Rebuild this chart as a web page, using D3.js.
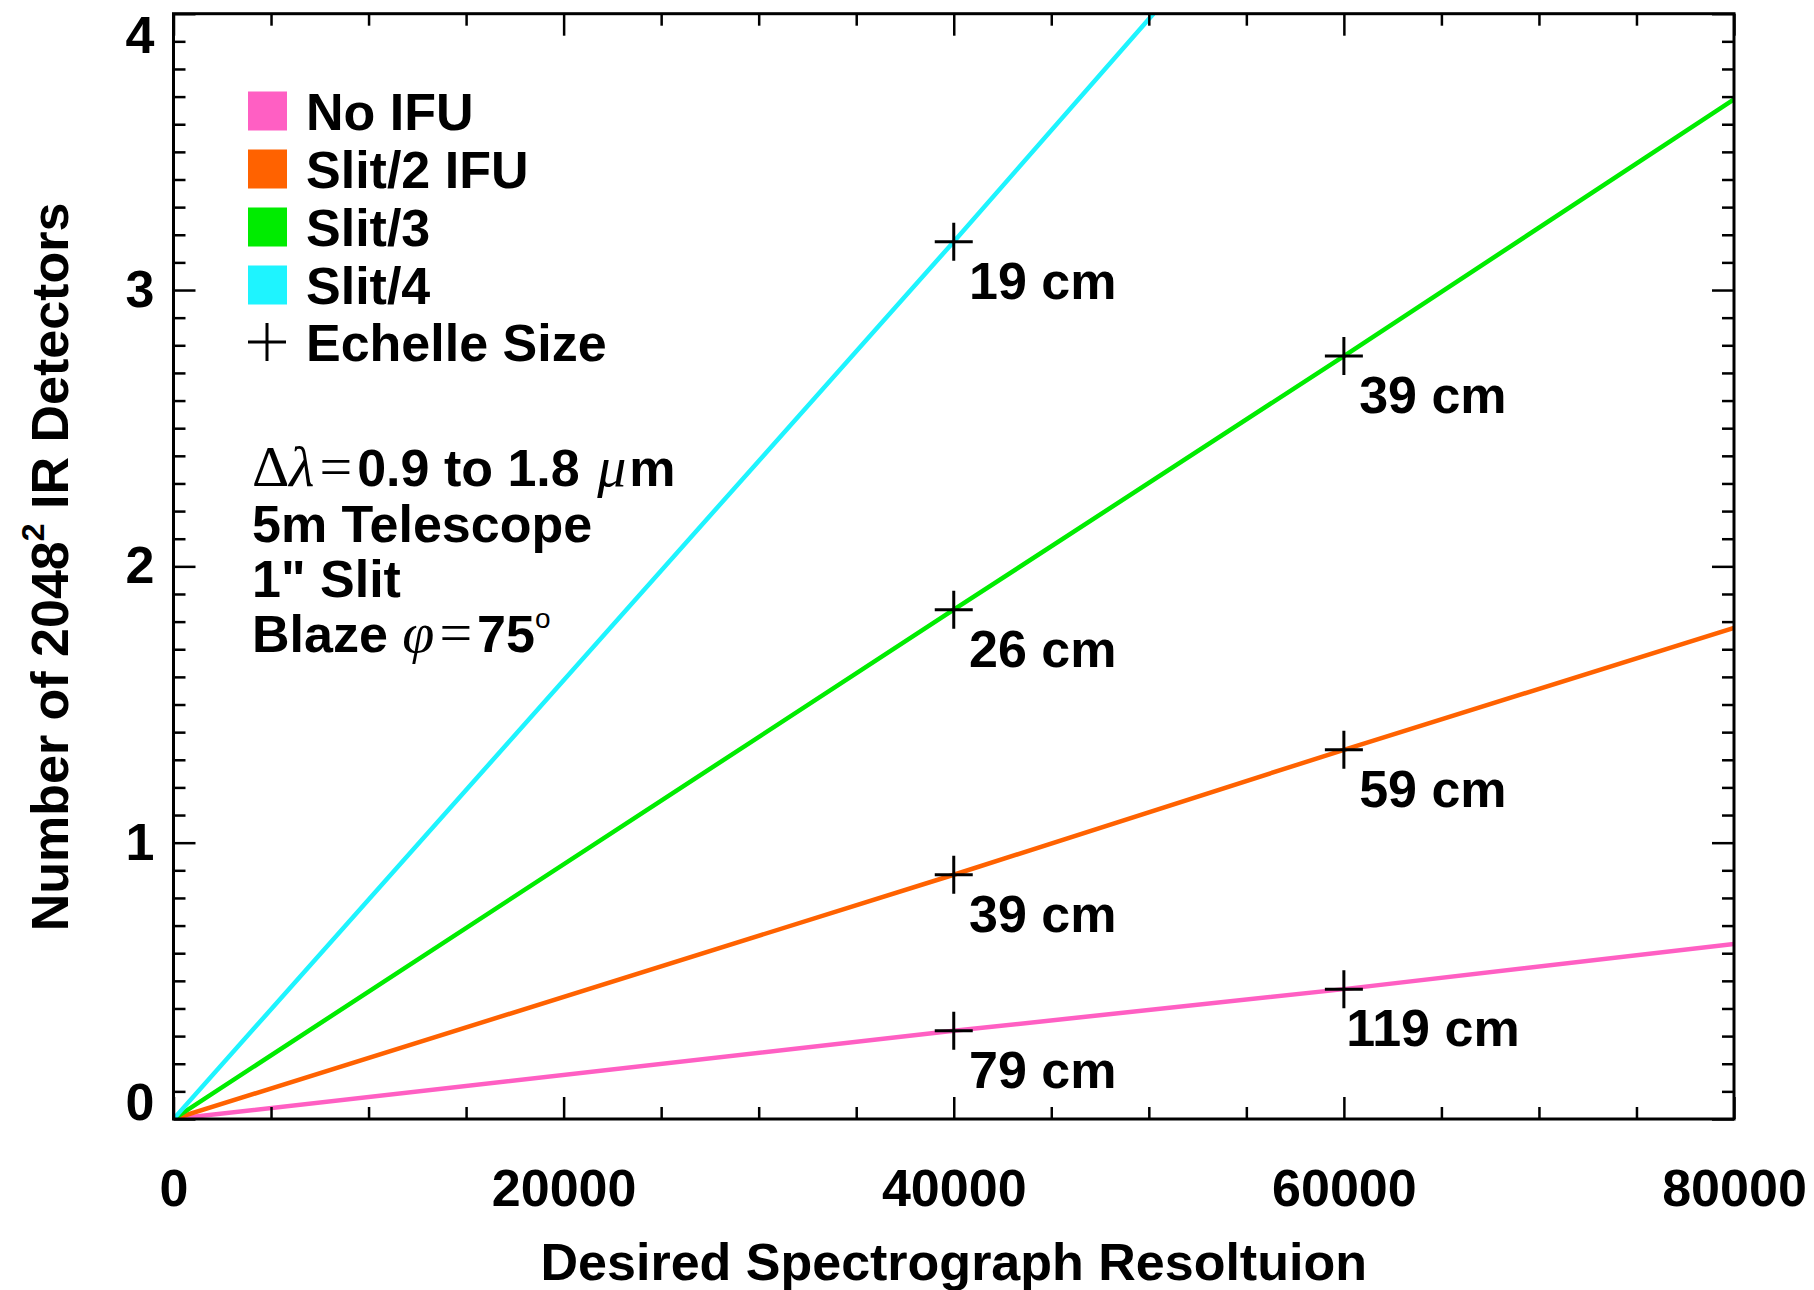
<!DOCTYPE html>
<html>
<head>
<meta charset="utf-8">
<script src="https://cdn.jsdelivr.net/npm/d3@7"></script>
<style>
  body { margin: 0; background: #fff; }
  text { font-family: "Liberation Sans", Arial, Helvetica, sans-serif; font-weight: bold; fill: #000; }
</style>
</head>
<body>
<script>
// resolution where the echelle sizes were computed
const resolution = [0, 40000, 60000, 80000];
const noIfu = [0, 0.319, 0.470, 0.633];
const slit2 = [0, 0.884, 1.336, 1.777];
const slit3 = [0, 1.843, 2.761, 3.69];
// Slit/4 leaves the plot at the top, so it stops at 4
const slit4Res = [0, 40000, 50240];
const slit4 = [0, 3.175, 4.0];

const seriesNames = ["No IFU", "Slit/2 IFU", "Slit/3", "Slit/4"];
const seriesColors = ["#ff5fc3", "#ff6200", "#00ec00", "#1ef4ff"];

// echelle size marks: [resolution, detectors, label]
const echelleRes = [40000, 40000, 60000, 40000, 60000, 40000, 60000];
const echelleVal = [3.175, 1.843, 2.761, 0.884, 1.336, 0.319, 0.470];
const echelleLabel = ["19 cm", "26 cm", "39 cm", "39 cm", "59 cm", "79 cm", "119 cm"];

const xMajor = [0, 20000, 40000, 60000, 80000];
const yMajor = [0, 1, 2, 3, 4];

const m = { width: 1814, height: 1290, left: 173.5, right: 1734, top: 13.7, bottom: 1119 };

let svg = d3.select("body")
  .append("svg")
  .attr("width", m.width)
  .attr("height", m.height);

let x = d3.scaleLinear().domain([0, 80000]).range([m.left, m.right]);
let y = d3.scaleLinear().domain([0, 4]).range([m.bottom, m.top]);

svg.append("clipPath").attr("id", "plot")
  .append("rect")
  .attr("x", m.left).attr("y", m.top)
  .attr("width", m.right - m.left).attr("height", m.bottom - m.top);

// Lines
let line = d3.line().x(d => x(d[0])).y(d => y(d[1]));
let seriesData = [
  d3.zip(resolution, noIfu),
  d3.zip(resolution, slit2),
  d3.zip(resolution, slit3),
  d3.zip(slit4Res, slit4)
];
svg.append("g")
  .attr("clip-path", "url(#plot)")
  .selectAll("path")
  .data(seriesData)
  .enter()
  .append("path")
  .attr("fill", "none")
  .attr("stroke", (d, i) => seriesColors[i])
  .attr("stroke-width", 4.5)
  .attr("d", line);

// Axes: ticks point inwards on every side
let xMinor = d3.range(0, 80001, 5000).filter(v => v % 20000 !== 0);
let yMinor = d3.range(0, 41).map(v => v / 10).filter(v => Math.abs(v - Math.round(v)) > 1e-6);

function styleAxis(g) {
  g.select(".domain").remove();
  g.selectAll(".tick line").attr("stroke", "#000").attr("stroke-width", 2.5);
  g.selectAll("text").attr("font-size", 52).attr("font-family", null);
}

let axBottom = svg.append("g").attr("transform", `translate(0,${m.bottom})`);
axBottom.append("g").call(d3.axisBottom(x).tickValues(xMajor).tickSize(-22).tickPadding(50).tickFormat(d3.format("d"))).call(styleAxis);
axBottom.append("g").call(d3.axisBottom(x).tickValues(xMinor).tickSize(-12).tickFormat("")).call(styleAxis);

let axTop = svg.append("g").attr("transform", `translate(0,${m.top})`);
axTop.append("g").call(d3.axisTop(x).tickValues(xMajor).tickSize(-22).tickFormat("")).call(styleAxis);
axTop.append("g").call(d3.axisTop(x).tickValues(xMinor).tickSize(-12).tickFormat("")).call(styleAxis);

let axLeft = svg.append("g").attr("transform", `translate(${m.left},0)`);
axLeft.append("g").call(d3.axisLeft(y).tickValues(yMajor).tickSize(-22).tickPadding(19).tickFormat(d3.format("d"))).call(styleAxis);
axLeft.append("g").call(d3.axisLeft(y).tickValues(yMinor).tickSize(-12).tickFormat("")).call(styleAxis);
// end labels sit a little inside the frame
axLeft.selectAll(".tick text").filter(d => d === 4).attr("dy", "0.75em");
axLeft.selectAll(".tick text").filter(d => d === 0).attr("dy", "0");

let axRight = svg.append("g").attr("transform", `translate(${m.right},0)`);
axRight.append("g").call(d3.axisRight(y).tickValues(yMajor).tickSize(-22).tickFormat("")).call(styleAxis);
axRight.append("g").call(d3.axisRight(y).tickValues(yMinor).tickSize(-12).tickFormat("")).call(styleAxis);

svg.append("rect")
  .attr("x", m.left).attr("y", m.top)
  .attr("width", m.right - m.left).attr("height", m.bottom - m.top)
  .attr("fill", "none").attr("stroke", "#000").attr("stroke-width", 3);

// Echelle size crosses and labels
let marks = svg.append("g");
echelleRes.forEach((r, i) => {
  let cx = x(r), cy = y(echelleVal[i]);
  marks.append("path")
    .attr("d", `M${cx - 19},${cy}H${cx + 19}M${cx},${cy - 19}V${cy + 19}`)
    .attr("stroke", "#000").attr("stroke-width", 3);
  marks.append("text")
    .attr("x", cx + 89).attr("y", cy + 57)
    .attr("text-anchor", "middle").attr("font-size", 52)
    .text(echelleLabel[i]);
});

// Legend
let legend = svg.append("g");
let rowY = [111, 169, 227, 285, 342];
seriesNames.forEach((name, i) => {
  legend.append("rect")
    .attr("x", 248).attr("y", rowY[i] - 19.5)
    .attr("width", 39).attr("height", 39)
    .attr("fill", seriesColors[i]);
  legend.append("text")
    .attr("x", 306).attr("y", rowY[i] + 19)
    .attr("font-size", 52).text(name);
});
legend.append("path")
  .attr("d", `M${267 - 19},${rowY[4]}H${267 + 19}M267,${rowY[4] - 19}V${rowY[4] + 19}`)
  .attr("stroke", "#000").attr("stroke-width", 3);
legend.append("text")
  .attr("x", 306).attr("y", rowY[4] + 19)
  .attr("font-size", 52).text("Echelle Size");

// Notes
function greek(t, s, italic, dx) {
  t.append("tspan")
    .attr("font-family", "Liberation Serif")
    .attr("font-weight", "normal")
    .attr("font-style", italic ? "italic" : "normal")
    .attr("font-size", 58)
    .attr("dx", dx || 0)
    .text(s);
}
let notes = svg.append("g");
let n1 = notes.append("text").attr("x", 252).attr("y", 486).attr("font-size", 52);
greek(n1, "Δ", false);
greek(n1, "λ", true);
greek(n1, "=", false, 5);
n1.append("tspan").attr("dx", 5).text("0.9 to 1.8 ");
greek(n1, "μ", true, 3);
n1.append("tspan").attr("dx", 3).text("m");
notes.append("text").attr("x", 252).attr("y", 542).attr("font-size", 52).text("5m Telescope");
notes.append("text").attr("x", 252).attr("y", 597).attr("font-size", 52).text("1\" Slit");
let n4 = notes.append("text").attr("x", 252).attr("y", 652).attr("font-size", 52);
n4.append("tspan").text("Blaze ");
greek(n4, "φ", true);
greek(n4, "=", false, 5);
n4.append("tspan").attr("dx", 5).text("75");
n4.append("tspan").attr("font-weight", "normal").attr("font-size", 28).attr("dy", -24).text("o");

// Axis titles
svg.append("text")
  .attr("x", (m.left + m.right) / 2).attr("y", 1280)
  .attr("text-anchor", "middle").attr("font-size", 52)
  .text("Desired Spectrograph Resoltuion");

let yt = svg.append("text")
  .attr("transform", "translate(68,567) rotate(-90)")
  .attr("text-anchor", "middle").attr("font-size", 52);
yt.append("tspan").text("Number of 2048");
yt.append("tspan").attr("font-size", 32).attr("dy", -24).text("2");
yt.append("tspan").attr("dy", 24).text(" IR Detectors");
</script>
</body>
</html>
